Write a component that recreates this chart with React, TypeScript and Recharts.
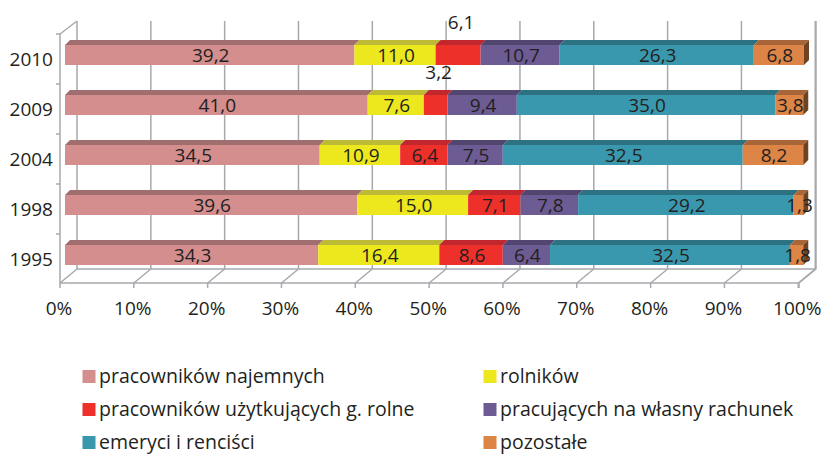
import React from 'react';
import { BarChart, Bar, XAxis, YAxis, CartesianGrid, LabelList } from 'recharts';

const years = ['2010', '2009', '2004', '1998', '1995'];
const najemnych = [39.2, 41.0, 34.5, 39.6, 34.3];
const rolnikow = [11.0, 7.6, 10.9, 15.0, 16.4];
const uzytkujacych = [6.1, 3.2, 6.4, 7.1, 8.6];
const wlasny = [10.7, 9.4, 7.5, 7.8, 6.4];
const emeryci = [26.3, 35.0, 32.5, 29.2, 32.5];
const pozostale = [6.8, 3.8, 8.2, 1.3, 1.8];
const xTicks = [0, 10, 20, 30, 40, 50, 60, 70, 80, 90, 100];

const seriesNames = [
  'pracowników najemnych',
  'rolników',
  'pracowników użytkujących g. rolne',
  'pracujących na własny rachunek',
  'emeryci i renciści',
  'pozostałe',
];

const data = years.map((year, i) => ({
  year,
  najemnych: najemnych[i],
  rolnikow: rolnikow[i],
  uzytkujacych: uzytkujacych[i],
  wlasny: wlasny[i],
  emeryci: emeryci[i],
  pozostale: pozostale[i],
}));

const FONT = '"Open Sans", "Noto Sans", sans-serif';
const TEXT = '#231F20';
const GRID = '#A7A9AC';
const DEPTH = 5;

const series = [
  { key: 'najemnych', front: '#D48E8E', top: '#A06E6E' },
  { key: 'rolnikow', front: '#EDE81E', top: '#BDBB35' },
  { key: 'uzytkujacych', front: '#EE302B', top: '#C1272D' },
  { key: 'wlasny', front: '#6D5B93', top: '#524670' },
  { key: 'emeryci', front: '#3A98AE', top: '#2C7282' },
  { key: 'pozostale', front: '#DC8546', top: '#A86537', side: '#6E4321' },
];

const CHART_W = 821;
const CHART_H = 455;
const PLOT_LEFT = 65;
const PLOT_RIGHT = 804;
const BACK_DX = 12;
const FRONT_DX = -5;

const fmt = (v: number) => v.toFixed(1).replace('.', ',');

const makeShape = (s: any) => (props: any) => {
  const { x, y, width, height } = props;
  if (width == null || isNaN(width)) return <g />;
  const d = DEPTH;
  return (
    <g>
      <rect x={x} y={y} width={width} height={height} fill={s.front} />
      <polygon
        points={`${x},${y} ${x + d},${y - d} ${x + width + d},${y - d} ${x + width},${y}`}
        fill={s.top}
      />
      {s.side && (
        <polygon
          points={`${x + width},${y} ${x + width + d},${y - d} ${x + width + d},${y + height - d} ${x + width},${y + height}`}
          fill={s.side}
        />
      )}
    </g>
  );
};

const makeLabel = (s: any, values: number[]) => (props: any) => {
  const { x, y, width, height, index } = props;
  const v = values[index];
  const outside = s.key === 'uzytkujacych' && width < 46;
  const cx = x + width / 2 + (outside ? 3 : 1);
  const cy = outside ? y - 22.5 : y + height / 2;
  return (
    <text
      x={cx}
      y={cy}
      dy="0.36em"
      textAnchor="middle"
      fontFamily={FONT}
      fontSize={19}
      fill={TEXT}
    >
      {fmt(v)}
    </text>
  );
};

const seriesValues: Record<string, number[]> = {
  najemnych,
  rolnikow,
  uzytkujacych,
  wlasny,
  emeryci,
  pozostale,
};

const gridLine = (props: any) => {
  const { x1, y1, y2, index, key } = props;
  const bx = x1 + BACK_DX;
  const fx = x1 + FRONT_DX;
  const topY = y1 - 9;
  const backBottom = y2 - 11;
  const frontY = y2 + 3;
  const els: any[] = [];
  els.push(
    <path
      key="l"
      d={`M${bx},${topY} L${bx},${backBottom} L${fx},${frontY} L${fx},${frontY + 5}`}
      fill="none"
      stroke={GRID}
      strokeWidth={1.5}
    />
  );
  if (index === 0) {
    const wallTop = topY + 13;
    els.push(
      <path
        key="w"
        d={`M${bx},${topY} L${fx},${wallTop} L${fx},${frontY}`}
        fill="none"
        stroke={GRID}
        strokeWidth={1.5}
      />
    );
    els.push(
      <path
        key="fb"
        d={`M${bx},${backBottom} L${PLOT_RIGHT + BACK_DX},${backBottom}`}
        fill="none"
        stroke={GRID}
        strokeWidth={1.5}
      />
    );
    els.push(
      <path
        key="ff"
        d={`M${fx},${frontY} L${PLOT_RIGHT + FRONT_DX},${frontY}`}
        fill="none"
        stroke={GRID}
        strokeWidth={1.5}
      />
    );
    const band = (y2 - y1) / years.length;
    for (let k = 0; k < years.length; k++) {
      const ty = wallTop + k * band;
      els.push(
        <path
          key={`t${k}`}
          d={`M${fx - 4},${ty} L${fx},${ty}`}
          stroke={GRID}
          strokeWidth={1.5}
        />
      );
    }
  }
  return <g key={key ?? `g${index}`}>{els}</g>;
};

const XTick = (props: any) => {
  const { x, payload } = props;
  return (
    <text
      x={x + FRONT_DX - 1}
      y={308}
      dy="0.36em"
      textAnchor="middle"
      fontFamily={FONT}
      fontSize={19}
      fill={TEXT}
    >
      {`${payload.value}%`}
    </text>
  );
};

const YTick = (props: any) => {
  const { y, payload } = props;
  return (
    <text
      x={53}
      y={y + 4}
      dy="0.36em"
      textAnchor="end"
      fontFamily={FONT}
      fontSize={19}
      fill={TEXT}
    >
      {payload.value}
    </text>
  );
};

const legendRows = [
  [0, 1],
  [2, 3],
  [4, 5],
];
const legendColX = [82.5, 483.5];
const legendRowY = [370, 403, 436];

export default function App() {
  return (
    <div style={{ position: 'absolute', left: 0, top: 0, width: CHART_W, height: CHART_H, background: '#fff' }}>
      <BarChart
        width={CHART_W}
        height={CHART_H}
        data={data}
        layout="vertical"
        margin={{ top: 30, right: CHART_W - PLOT_RIGHT, left: 0, bottom: 145 }}
        barSize={20}
      >
        <CartesianGrid horizontal={false} vertical={gridLine} stroke={GRID} />
        <XAxis
          type="number"
          domain={[0, 100]}
          ticks={xTicks}
          axisLine={false}
          tickLine={false}
          height={30}
          tick={<XTick />}
          interval={0}
        />
        <YAxis
          type="category"
          dataKey="year"
          width={PLOT_LEFT}
          axisLine={false}
          tickLine={false}
          tick={<YTick />}
          interval={0}
        />
        {series.map((s) => (
          <Bar
            key={s.key}
            dataKey={s.key}
            stackId="a"
            fill={s.front}
            isAnimationActive={false}
            shape={makeShape(s)}
          >
            <LabelList dataKey={s.key} content={makeLabel(s, seriesValues[s.key])} />
          </Bar>
        ))}
      </BarChart>
      <svg
        width={CHART_W}
        height={CHART_H}
        style={{ position: 'absolute', left: 0, top: 0, pointerEvents: 'none' }}
      >
        {legendRows.map((row, r) =>
          row.map((si, c) => (
            <g key={`${r}-${c}`}>
              <rect x={legendColX[c]} y={legendRowY[r]} width={13} height={13} fill={series[si].front} />
              <text
                x={legendColX[c] + 16.5}
                y={legendRowY[r] + 13}
                fontFamily={FONT}
                fontSize={19.5}
                fill={TEXT}
              >
                {seriesNames[si]}
              </text>
            </g>
          ))
        )}
      </svg>
    </div>
  );
}
